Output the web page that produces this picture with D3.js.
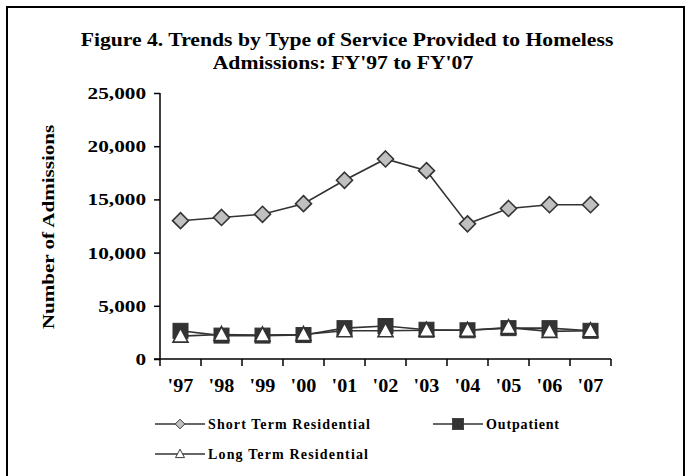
<!DOCTYPE html>
<html>
<head>
<meta charset="utf-8">
<script src="https://cdn.jsdelivr.net/npm/d3@7"></script>
<style>
  body { margin: 0; background: #fff; }
  text { font-family: "Liberation Serif", "Times New Roman", serif; font-weight: bold; fill: #000; }
</style>
</head>
<body>
<svg id="chart" width="690" height="476"></svg>
<script>
const years = ["'97", "'98", "'99", "'00", "'01", "'02", "'03", "'04", "'05", "'06", "'07"];
const shortTerm = [13000, 13300, 13600, 14600, 16800, 18800, 17700, 12700, 14150, 14500, 14500];
const outpatient = [2650, 2200, 2200, 2250, 2900, 3100, 2750, 2700, 2900, 2900, 2650];
const longTerm = [2150, 2300, 2250, 2300, 2650, 2650, 2700, 2700, 2950, 2600, 2650];
const yTicks = [0, 5000, 10000, 15000, 20000, 25000];

const svg = d3.select("#chart");

// the original type is wider than Liberation Serif at the same height
function stretch(sel, factor, adjust) {
  sel.each(function () {
    const w = this.getComputedTextLength();
    d3.select(this).attr("textLength", w * factor)
      .attr("lengthAdjust", adjust || "spacingAndGlyphs");
  });
}

// outer frame
svg.append("rect")
  .attr("x", 7).attr("y", 7).attr("width", 677).attr("height", 480)
  .attr("fill", "none").attr("stroke", "#000").attr("stroke-width", 2);

// title
svg.append("text").attr("class", "title").attr("x", 347).attr("y", 46).attr("text-anchor", "middle")
  .style("font-size", "19px").text("Figure 4. Trends by Type of Service Provided to Homeless");
svg.append("text").attr("class", "title").attr("x", 343).attr("y", 69).attr("text-anchor", "middle")
  .style("font-size", "19px").text("Admissions: FY'97 to FY'07");
stretch(svg.selectAll(".title"), 1.14);

const x = d3.scaleBand().domain(years).range([160, 611]);
const y = d3.scaleLinear().domain([0, 25000]).range([359, 93]);

// y axis
const yAxis = svg.append("g").attr("transform", "translate(160,0)")
  .call(d3.axisLeft(y).tickValues(yTicks).tickSize(6).tickPadding(8)
    .tickFormat(d3.format(",")));
yAxis.select(".domain").attr("stroke", "#000").attr("stroke-width", 1.5).attr("d", "M0,93V359");
yAxis.selectAll(".tick line").attr("stroke", "#000").attr("stroke-width", 1.5);
yAxis.selectAll(".tick text").style("font-size", "17px").style("font-family", "Liberation Serif").style("font-weight", "bold");
stretch(yAxis.selectAll(".tick text"), 1.25);

// x axis with ticks at category boundaries
svg.append("line").attr("x1", 154).attr("x2", 611).attr("y1", 359).attr("y2", 359)
  .attr("stroke", "#000").attr("stroke-width", 1.5);
svg.selectAll(".xtick").data(years.concat(["end"])).join("line")
  .attr("class", "xtick")
  .attr("x1", (d, i) => i < years.length ? x(d) : x.range()[1])
  .attr("x2", (d, i) => i < years.length ? x(d) : x.range()[1])
  .attr("y1", 359).attr("y2", 366)
  .attr("stroke", "#000").attr("stroke-width", 1.5);
svg.selectAll(".xlab").data(years).join("text")
  .attr("class", "xlab")
  .attr("x", d => x(d) + x.bandwidth() / 2).attr("y", 392)
  .attr("text-anchor", "middle").style("font-size", "18px")
  .text(d => d);
stretch(svg.selectAll(".xlab"), 1.12);

// y axis title
svg.append("text").attr("class", "ytitle")
  .attr("transform", "translate(54,227) rotate(-90)")
  .attr("text-anchor", "middle").style("font-size", "17px")
  .text("Number of Admissions");
stretch(svg.selectAll(".ytitle"), 1.24);

const cx = (d, i) => x(years[i]) + x.bandwidth() / 2;
const line = d3.line().x(cx).y(d => y(d));

const series = [
  { name: "Short Term Residential", values: shortTerm, marker: "diamond" },
  { name: "Long Term Residential", values: longTerm, marker: "triangle" },
  { name: "Outpatient", values: outpatient, marker: "square" }
];

function drawMarker(g, type, px, py) {
  if (type === "diamond") {
    g.append("path").attr("d", `M${px},${py - 8}L${px + 8},${py}L${px},${py + 8}L${px - 8},${py}Z`)
      .attr("fill", "#c0c0c0").attr("stroke", "#333").attr("stroke-width", 1.6);
  } else if (type === "square") {
    g.append("rect").attr("x", px - 7.5).attr("y", py - 7.5).attr("width", 15).attr("height", 15)
      .attr("fill", "#333").attr("stroke", "#333").attr("stroke-width", 1);
  } else {
    g.append("path").attr("d", `M${px},${py - 8}L${px + 7.5},${py + 6}L${px - 7.5},${py + 6}Z`)
      .attr("fill", "#fff").attr("stroke", "#333").attr("stroke-width", 1.6);
  }
}

// draw lines first, then markers (outpatient under long term)
const order = [series[2], series[1], series[0]];
order.forEach(s => {
  svg.append("path").datum(s.values).attr("d", line)
    .attr("fill", "none").attr("stroke", "#333").attr("stroke-width", 1.6);
});
order.forEach(s => {
  const g = svg.append("g");
  s.values.forEach((v, i) => drawMarker(g, s.marker, cx(v, i), y(v)));
});

// legend
const legendItems = [
  { s: series[0], lx: 155, ly: 424, w: 162 },
  { s: series[2], lx: 433, ly: 424, w: 73 },
  { s: series[1], lx: 155, ly: 454, w: 160 }
];
legendItems.forEach(it => {
  const g = svg.append("g");
  g.append("line").attr("x1", it.lx).attr("x2", it.lx + 50).attr("y1", it.ly).attr("y2", it.ly)
    .attr("stroke", "#333").attr("stroke-width", 1.6);
  const sz = it.s.marker === "square" ? 0.75 : 0.6;
  const mg = g.append("g")
    .attr("transform", `translate(${it.lx + 25},${it.ly}) scale(${sz}) translate(${-(it.lx + 25)},${-it.ly})`);
  drawMarker(mg, it.s.marker, it.lx + 25, it.ly);
  g.append("text").attr("x", it.lx + 53).attr("y", it.ly + 5)
    .style("font-size", "14px").attr("textLength", it.w).attr("lengthAdjust", "spacing")
    .text(it.s.name);
});
</script>
</body>
</html>
